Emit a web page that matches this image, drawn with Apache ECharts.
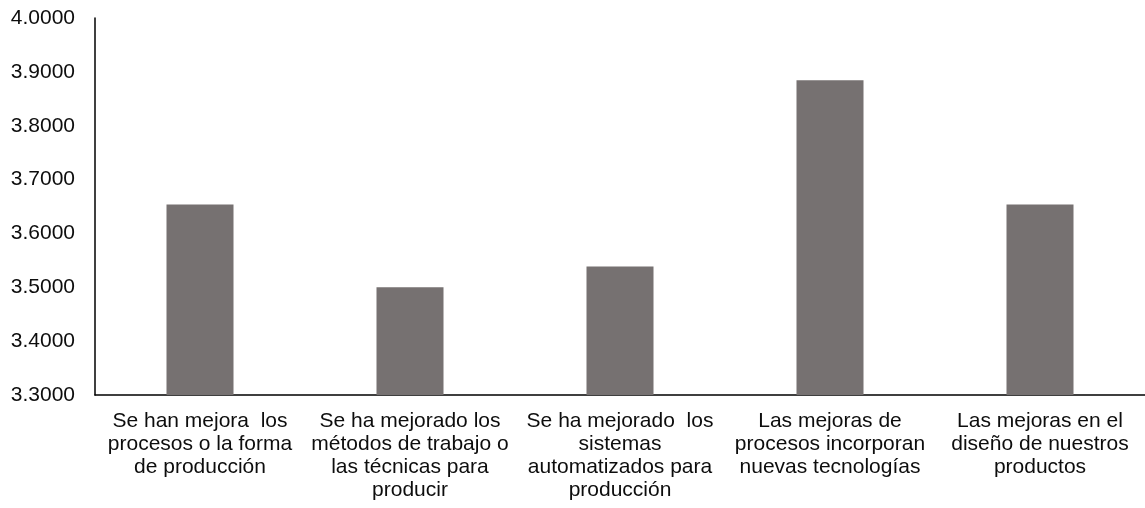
<!DOCTYPE html>
<html>
<head>
<meta charset="utf-8">
<script src="https://cdn.jsdelivr.net/npm/echarts@6/dist/echarts.min.js"></script>
<style>
  html, body { margin: 0; padding: 0; background: #fff; }
  #chart { width: 1145px; height: 508px; }
</style>
</head>
<body>
<div id="chart"></div>
<script>
// categories and mean scores
const categories = [
  'Se han mejora  los\nprocesos o la forma\nde producción',
  'Se ha mejorado los\nmétodos de trabajo o\nlas técnicas para\nproducir',
  'Se ha mejorado  los\nsistemas\nautomatizados para\nproducción',
  'Las mejoras de\nprocesos incorporan\nnuevas tecnologías',
  'Las mejoras en el\ndiseño de nuestros\nproductos'
];
const values = [3.6538, 3.5000, 3.5385, 3.8846, 3.6538];

const yMin = 3.3;
const yMax = 4.0;
const yStep = 0.1;

const myChart = echarts.init(document.getElementById('chart'), null, { renderer: 'canvas' });

const option = {
  backgroundColor: '#ffffff',
  animation: false,
  grid: {
    left: 95,
    top: 18,
    width: 1055,
    height: 377
  },
  xAxis: {
    type: 'category',
    data: categories,
    axisLine: { lineStyle: { color: '#000', width: 1.5 } },
    axisTick: { show: false },
    axisLabel: {
      interval: 0,
      margin: 15,
      color: '#0d0d0d',
      fontFamily: 'Liberation Sans, Arial, sans-serif',
      fontSize: 21,
      lineHeight: 23,
      align: 'center'
    }
  },
  yAxis: {
    type: 'value',
    min: yMin,
    max: yMax,
    interval: yStep,
    splitLine: { show: false },
    axisTick: { show: false },
    axisLine: { show: true, lineStyle: { color: '#000', width: 1.5 } },
    axisLabel: {
      margin: 20,
      color: '#0d0d0d',
      fontFamily: 'Liberation Sans, Arial, sans-serif',
      fontSize: 21,
      formatter: (v) => v.toFixed(4)
    }
  },
  series: [
    {
      type: 'bar',
      data: values,
      barWidth: 67,
      itemStyle: { color: '#767171' }
    }
  ]
};

myChart.setOption(option);
</script>
</body>
</html>
